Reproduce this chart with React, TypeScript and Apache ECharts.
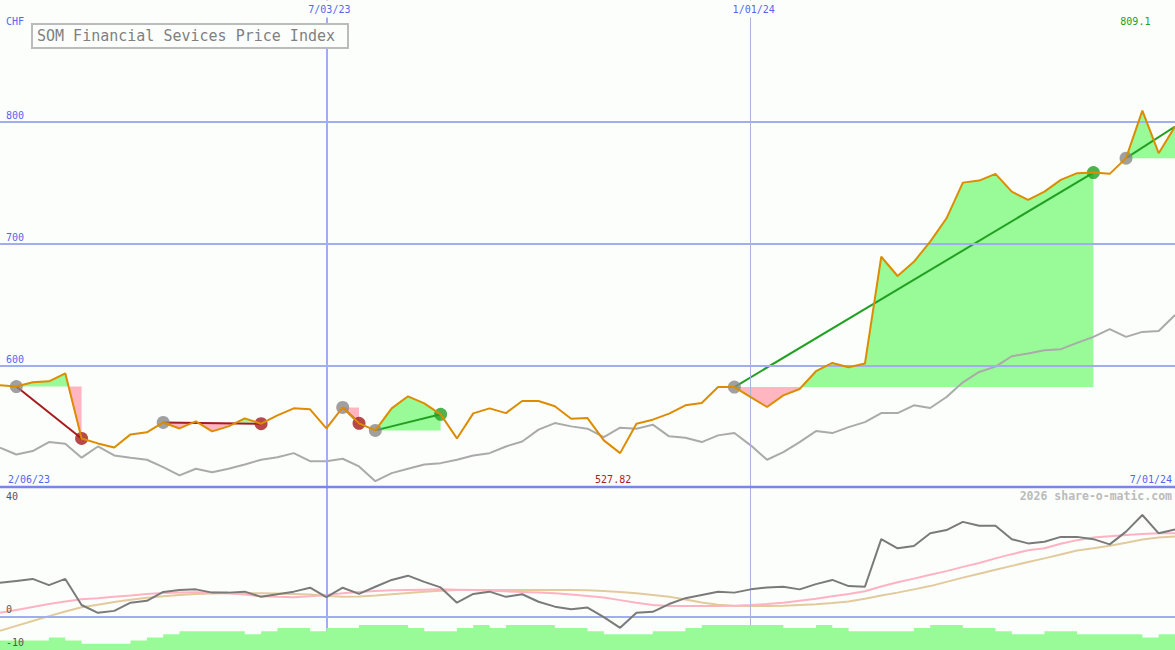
import React, { useEffect, useRef } from "react";
import * as echarts from "echarts";

// ---------- data ----------
const FIRST_WEEK = 1;
const LAST_WEEK = 73;

const prices = [
  583.5, 582.5, 586, 586.8, 593.4, 539.9, 535.8, 532.5, 543.2, 544.9,
  553.0, 548.1, 553.9, 545.7, 549.8, 556.4, 552.0, 558.8, 564.6, 563.8,
  548.1, 565.4, 552.3, 546.5, 564.6, 574.5, 568.7, 559.7, 539.9, 560.5,
  564.6, 560.7, 570.6, 570.6, 566.3, 556.1, 556.6, 538.3, 527.82, 552.0,
  555.3, 560.3, 567.1, 569.0, 582.1, 582.1, 573.9, 565.7, 575.3, 580.5,
  595.1, 601.9, 598.4, 601.4, 689.1, 673.3, 685.0, 701.5, 720.7, 750.0,
  751.7, 757.2, 742.6, 735.8, 742.6, 752.3, 757.8, 758.3, 757.2, 770.1,
  809.1, 774.2, 796.1,
];

const relative = [
  532.3, 526.7, 529.5, 536.9, 535.6, 524.1, 533.3, 525.9, 524.1, 522.4,
  516.3, 509.5, 515.0, 512.2, 515.0, 518.5, 522.4, 524.5, 527.8, 521.2,
  521.2, 523.2, 516.9, 504.8, 511.4, 515.0, 518.5, 519.6, 522.4, 525.9,
  527.8, 533.3, 537.4, 547.1, 552.5, 549.8, 547.9, 541.0, 548.7, 547.9,
  551.2, 541.6, 540.5, 536.9, 542.4, 544.3, 534.2, 522.4, 528.6, 536.9,
  545.9, 544.3, 549.2, 553.3, 560.7, 560.7, 567.1, 564.9, 573.9, 586.0,
  594.5, 598.9, 607.4, 609.6, 612.3, 613.2, 618.4, 623.3, 629.6, 623.3,
  627.4, 628.2, 641.2,
];

const oscillator = [
  10.3, 10.9, 11.5, 9.6, 11.5, 3.5, 1.1, 1.7, 4.2, 4.8,
  7.5, 8.1, 8.3, 7.3, 7.3, 7.6, 6.0, 6.8, 7.6, 8.8,
  5.9, 8.8, 6.9, 9.1, 11.2, 12.5, 10.6, 8.9, 4.2, 6.9,
  7.6, 6.0, 6.8, 4.5, 3.0, 2.2, 2.7, -0.2, -3.5, 1.1,
  1.4, 3.8, 5.6, 6.6, 7.6, 7.3, 8.3, 8.9, 9.1, 8.3,
  9.9, 11.2, 9.3, 9.1, 23.7, 20.9, 21.6, 25.5, 26.5, 29.0,
  27.8, 27.8, 23.7, 22.4, 22.9, 24.4, 24.4, 23.7, 22.1, 26.0,
  31.1, 25.5, 26.7,
];

const oscFast = [
  1.1, 2.0, 2.9, 3.8, 4.6, 5.3, 5.6, 6.0, 6.4, 6.9,
  7.2, 7.3, 7.4, 7.3, 7.1, 6.7, 6.2, 6.0, 5.9, 6.2,
  6.6, 7.1, 7.5, 7.8, 8.0, 8.1, 8.2, 8.3, 8.2, 8.1,
  7.9, 7.7, 7.5, 7.3, 7.1, 6.7, 6.3, 5.8, 5.0, 4.2,
  3.5, 3.2, 3.2, 3.2, 3.2, 3.3, 3.5, 3.8, 4.2, 4.8,
  5.4, 6.2, 6.9, 7.7, 9.2, 10.5, 11.6, 12.8, 13.9, 15.2,
  16.4, 17.8, 19.1, 20.3, 20.9, 22.3, 23.4, 24.2, 24.6, 25.0,
  25.3, 25.5, 25.5,
];

const oscSlow = [
  -4.4, -2.9, -1.4, 0.1, 1.5, 2.8, 3.6, 4.4, 5.1, 5.7,
  6.2, 6.6, 6.9, 7.0, 7.1, 7.1, 7.1, 7.0, 6.9, 6.7,
  6.3, 6.0, 6.1, 6.4, 6.8, 7.2, 7.6, 7.9, 8.1, 8.1,
  8.1, 8.1, 8.1, 8.1, 8.1, 8.1, 8.0, 7.8, 7.5, 7.1,
  6.6, 6.0, 5.2, 4.3, 3.6, 3.3, 3.2, 3.2, 3.3, 3.5,
  3.7, 4.1, 4.6, 5.4, 6.4, 7.3, 8.3, 9.3, 10.6, 11.9,
  13.1, 14.3, 15.5, 16.7, 17.8, 19.0, 20.2, 20.9, 21.7, 22.6,
  23.6, 24.2, 24.5,
];

const volume = [
  3, 3, 3, 4, 3, 2, 2, 2, 3, 4,
  5, 6, 6, 6, 6, 5, 6, 7, 7, 6,
  7, 7, 8, 8, 8, 7, 6, 6, 7, 8,
  7, 8, 8, 8, 7, 7, 6, 5, 5, 5,
  6, 6, 7, 8, 8, 8, 8, 8, 7, 7,
  8, 7, 6, 6, 6, 6, 7, 8, 8, 7,
  7, 6, 5, 5, 6, 6, 5, 5, 5, 5,
  4, 5, 5,
];

const trades = [
  { entry: 2, exit: 6, open: false },
  { entry: 11, exit: 17, open: false },
  { entry: 22, exit: 23, open: false },
  { entry: 24, exit: 28, open: false },
  { entry: 46, exit: 68, open: false },
  { entry: 70, exit: 73, open: true },
];

const priceTicks = [600, 700, 800];
const priceBase = 500;
const oscTicks = [40, 0, -10];
const dateLines = [
  { week: 21, label: "7/03/23", strong: true },
  { week: 47, label: "1/01/24", strong: false },
];
const startLabel = "2/06/23";
const endLabel = "7/01/24";
const currency = "CHF";
const title = "SOM Financial Sevices Price Index";
const watermark = "2026 share-o-matic.com";

// ---------- styles ----------
const BG = "#fcfefc";
const GRID = "#a2acf0";
const BORDER = "#7886ea";
const THIN = "#aab2dc";
const BLUE_TXT = "#5566ee";
const ORANGE = "#dd8c00";
const GRAYLINE = "#aaaaaa";
const GREEN_FILL = "#98fb98";
const PINK_FILL = "#ffb6c1";
const WIN = "#22a022";
const LOSS = "#a51c1c";
const ENTRY = "#888888";
const MONO = "'DejaVu Sans Mono', 'Liberation Mono', monospace";

const weekOf = (i: number) => FIRST_WEEK + i;
const pairs = (arr: number[]) => arr.map((v, i) => [weekOf(i), v]);
const priceAt = (w: number) => prices[w - FIRST_WEEK];

export default function App() {
  const ref = useRef<HTMLDivElement>(null);

  useEffect(() => {
    if (!ref.current) return;
    const chart = echarts.init(ref.current, null, { renderer: "svg" });

    const fillSeries = {
      type: "custom",
      xAxisIndex: 0,
      yAxisIndex: 0,
      z: 2,
      clip: true,
      silent: true,
      data: trades.map((t) => [t.entry, priceAt(t.entry)]),
      renderItem: (params: any, api: any) => {
        const t = trades[params.dataIndex];
        const baseY = api.coord([t.entry, priceAt(t.entry)])[1];
        const pts: number[][] = [];
        for (let w = t.entry; w <= t.exit; w++) pts.push(api.coord([w, priceAt(w)]));
        const full: number[][] = [pts[0]];
        for (let i = 1; i < pts.length; i++) {
          const a = pts[i - 1];
          const b = pts[i];
          if ((a[1] - baseY) * (b[1] - baseY) < 0) {
            const f = (baseY - a[1]) / (b[1] - a[1]);
            full.push([a[0] + f * (b[0] - a[0]), baseY]);
          }
          full.push(b);
        }
        const x0 = full[0][0];
        const x1 = full[full.length - 1][0];
        const up = [[x0, baseY], ...full.map((p) => [p[0], Math.min(p[1], baseY)]), [x1, baseY]];
        const down = [[x0, baseY], ...full.map((p) => [p[0], Math.max(p[1], baseY)]), [x1, baseY]];
        return {
          type: "group",
          children: [
            { type: "polygon", shape: { points: up }, style: { fill: GREEN_FILL } },
            { type: "polygon", shape: { points: down }, style: { fill: PINK_FILL } },
          ],
        };
      },
    };

    const tradeLineSeries = {
      type: "custom",
      xAxisIndex: 0,
      yAxisIndex: 0,
      z: 4,
      clip: true,
      silent: true,
      data: trades.map((t) => [t.entry, priceAt(t.entry), t.exit, priceAt(t.exit)]),
      renderItem: (params: any, api: any) => {
        const t = trades[params.dataIndex];
        const a = api.coord([t.entry, priceAt(t.entry)]);
        const b = api.coord([t.exit, priceAt(t.exit)]);
        const win = priceAt(t.exit) >= priceAt(t.entry);
        return {
          type: "line",
          shape: { x1: a[0], y1: a[1], x2: b[0], y2: b[1] },
          style: { stroke: win ? WIN : LOSS, lineWidth: 2 },
        };
      },
    };

    const markerData: any[] = [];
    trades.forEach((t) => {
      markerData.push({ value: [t.entry, priceAt(t.entry)], itemStyle: { color: ENTRY } });
      if (!t.open) {
        const win = priceAt(t.exit) >= priceAt(t.entry);
        markerData.push({ value: [t.exit, priceAt(t.exit)], itemStyle: { color: win ? WIN : LOSS } });
      }
    });

    const solid = (color: string, width: number) => ({ color, width, type: "solid" });

    const option: any = {
      animation: false,
      backgroundColor: BG,
      grid: [
        { left: 0, right: 0, top: 0, height: 487 },
        { left: 0, right: 0, top: 487, height: 163 },
      ],
      xAxis: [
        { type: "value", gridIndex: 0, min: FIRST_WEEK, max: LAST_WEEK, show: false },
        { type: "value", gridIndex: 1, min: FIRST_WEEK, max: LAST_WEEK, show: false },
      ],
      yAxis: [
        { type: "value", gridIndex: 0, min: 500, max: 900, show: false },
        { type: "value", gridIndex: 1, min: -10.3, max: 39.7, show: false },
        { type: "value", gridIndex: 1, min: 0, max: 52, show: false },
      ],
      series: [
        {
          type: "line",
          xAxisIndex: 0,
          yAxisIndex: 0,
          data: [[FIRST_WEEK, priceBase]],
          showSymbol: false,
          lineStyle: { opacity: 0 },
          z: 1,
          silent: true,
          markLine: {
            silent: true,
            symbol: "none",
            label: { show: false },
            data: [
              ...priceTicks.map((v) => ({ yAxis: v, lineStyle: solid(GRID, 2) })),
              ...dateLines.map((d) => ({
                xAxis: d.week,
                lineStyle: d.strong ? solid(GRID, 2) : solid(THIN, 1),
              })),
            ],
          },
        },
        {
          type: "line",
          xAxisIndex: 1,
          yAxisIndex: 1,
          data: [[FIRST_WEEK, 0]],
          showSymbol: false,
          lineStyle: { opacity: 0 },
          z: 1,
          silent: true,
          markLine: {
            silent: true,
            symbol: "none",
            label: { show: false },
            data: [
              { yAxis: 0, lineStyle: solid(GRID, 2) },
              ...dateLines.map((d) => ({
                xAxis: d.week,
                lineStyle: d.strong ? solid(GRID, 2) : solid(THIN, 1),
              })),
            ],
          },
        },
        fillSeries,
        {
          type: "line",
          xAxisIndex: 0,
          yAxisIndex: 0,
          data: pairs(relative),
          showSymbol: false,
          z: 3,
          silent: true,
          lineStyle: { color: GRAYLINE, width: 2 },
        },
        tradeLineSeries,
        {
          type: "scatter",
          xAxisIndex: 0,
          yAxisIndex: 0,
          data: markerData,
          symbolSize: 13,
          z: 5,
          silent: true,
        },
        {
          type: "line",
          xAxisIndex: 0,
          yAxisIndex: 0,
          data: pairs(prices),
          showSymbol: false,
          z: 6,
          silent: true,
          lineStyle: { color: ORANGE, width: 2 },
        },
        // lower panel
        {
          type: "line",
          xAxisIndex: 1,
          yAxisIndex: 2,
          data: pairs(volume),
          step: "end",
          showSymbol: false,
          z: 6,
          silent: true,
          lineStyle: { width: 0, color: GREEN_FILL },
          areaStyle: { color: GREEN_FILL, opacity: 1 },
        },
        {
          type: "line",
          xAxisIndex: 1,
          yAxisIndex: 1,
          data: pairs(oscSlow),
          showSymbol: false,
          z: 3,
          silent: true,
          lineStyle: { color: "#e2ca9c", width: 2 },
        },
        {
          type: "line",
          xAxisIndex: 1,
          yAxisIndex: 1,
          data: pairs(oscFast),
          showSymbol: false,
          z: 4,
          silent: true,
          lineStyle: { color: "#ffb2c2", width: 2 },
        },
        {
          type: "line",
          xAxisIndex: 1,
          yAxisIndex: 1,
          data: pairs(oscillator),
          showSymbol: false,
          z: 5,
          silent: true,
          lineStyle: { color: "#7a7a7a", width: 2 },
        },
      ],
    };

    chart.setOption(option);

    const px = (w: number) => chart.convertToPixel({ xAxisIndex: 0 } as any, w) as number;
    const py = (v: number) => chart.convertToPixel({ yAxisIndex: 0 } as any, v) as number;
    const py2 = (v: number) => chart.convertToPixel({ yAxisIndex: 1 } as any, v) as number;

    const txt = (
      text: string,
      x: number,
      y: number,
      fill: string,
      align: string,
      extra: any = {}
    ) => ({
      type: "text",
      x,
      y,
      z: 100,
      silent: true,
      style: {
        text,
        fill,
        font: `10px ${MONO}`,
        align,
        textAlign: align,
        verticalAlign: "middle",
        textVerticalAlign: "middle",
        ...extra,
      },
    });

    let minI = 0;
    let maxI = 0;
    prices.forEach((v, i) => {
      if (v < prices[minI]) minI = i;
      if (v > prices[maxI]) maxI = i;
    });

    const graphics: any[] = [
      txt(currency, 6, 21, BLUE_TXT, "left"),
      ...priceTicks.map((v) => txt(String(v), 6, py(v) - 6, BLUE_TXT, "left")),
      ...dateLines.map((d) =>
        txt(d.label, px(d.week) + 3, 9, BLUE_TXT, "center", {
          backgroundColor: BG,
          padding: [6, 2, 1, 2],
        })
      ),
      txt(startLabel, 8, py(priceBase) - 8, BLUE_TXT, "left"),
      txt(endLabel, px(LAST_WEEK) - 3, py(priceBase) - 8, BLUE_TXT, "right"),
      txt(String(prices[minI]), px(weekOf(minI)) - 7, py(priceBase) - 8, "#a82222", "center"),
      txt(String(prices[maxI]), px(weekOf(maxI)) - 7, 21, WIN, "center"),
      ...oscTicks.map((v) =>
        txt(String(v), 6, v === Math.max(...oscTicks) ? py2(v) + 10 : py2(v) - 6.5, "#555555", "left")
      ),
      txt(watermark, px(LAST_WEEK) - 3, 496, "#bbbbbb", "right", {
        font: `bold 11.5px ${MONO}`,
      }),
      {
        type: "rect",
        z: 100,
        silent: true,
        shape: { x: 32, y: 24, width: 316, height: 24 },
        style: { fill: BG, stroke: "#bbbbbb", lineWidth: 2 },
      },
      txt(title, 37, 36, "#808080", "left", { font: `15px ${MONO}` }),
      {
        type: "line",
        z: 99,
        silent: true,
        shape: { x1: 0, y1: py(priceBase), x2: 1175, y2: py(priceBase) },
        style: { stroke: BORDER, lineWidth: 2.5 },
      },
    ];

    chart.setOption({ graphic: graphics });

    return () => chart.dispose();
  }, []);

  return (
    <div
      ref={ref}
      style={{ position: "fixed", left: 0, top: 0, width: 1175, height: 650 }}
    />
  );
}
